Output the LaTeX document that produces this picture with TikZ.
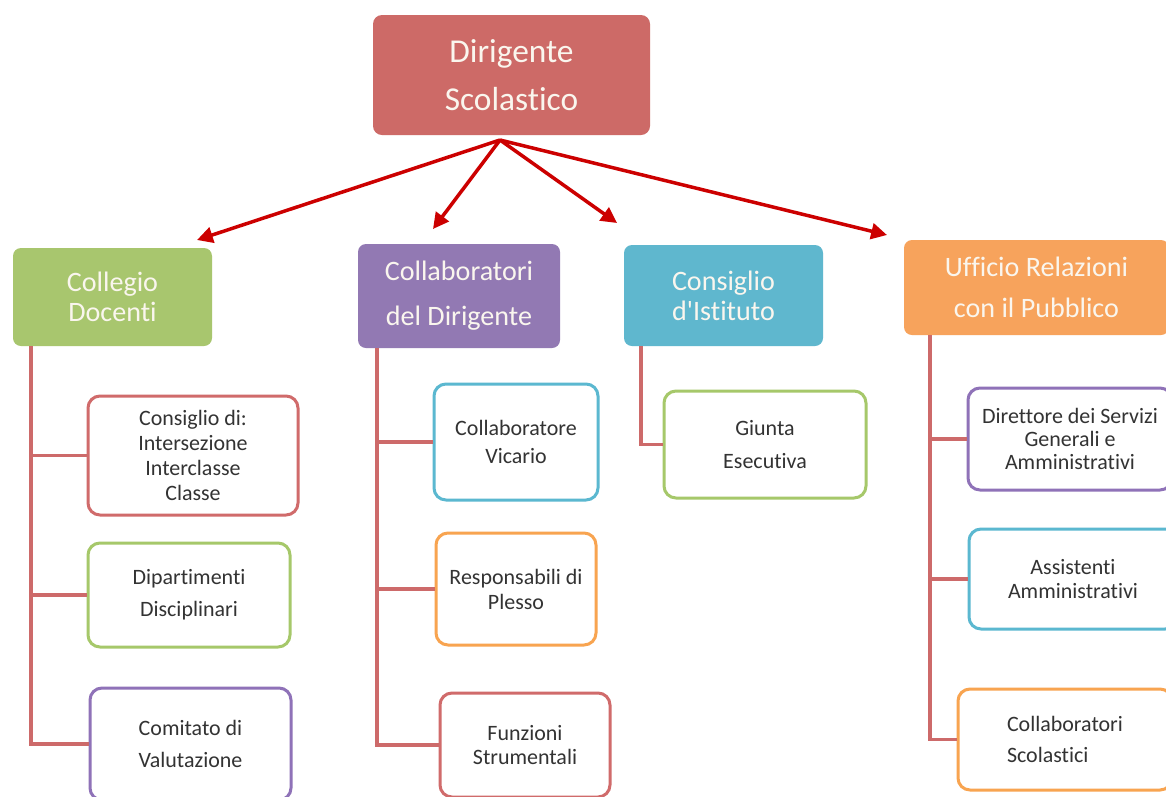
\documentclass[tikz,border=0pt]{standalone}
\usepackage{fontspec}
\setmainfont{Carlito}[Ligatures={NoCommon}]
\usetikzlibrary{arrows.meta}
\newlength\pxu
\setlength\pxu{0.02cm}
\definecolor{topred}{HTML}{CD6A67}
\definecolor{lgreen}{HTML}{A8C66E}
\definecolor{lpurple}{HTML}{9279B3}
\definecolor{lcyan}{HTML}{5FB7CE}
\definecolor{lorange}{HTML}{F7A35C}
\definecolor{bred}{HTML}{D06B6B}
\definecolor{bgreen}{HTML}{A6C86A}
\definecolor{bpurple}{HTML}{8F72B8}
\definecolor{bcyan}{HTML}{5BB8D0}
\definecolor{borange}{HTML}{F8A450}
\definecolor{connred}{HTML}{CD6A6A}
\definecolor{arrred}{HTML}{CC0000}
\definecolor{txt}{HTML}{333333}
\definecolor{wtxt}{HTML}{FAF6EE}
\begin{document}
\begin{tikzpicture}[x=0.02cm,y=-0.02cm,
  topbox/.style={fill=topred, rounded corners=9\pxu, inner sep=0pt, align=center, text=wtxt,
    font=\fontsize{19}{27}\selectfont},
  lvtwo/.style={rounded corners=8\pxu, inner sep=0pt, align=center, text=wtxt},
  lvthree/.style={draw, line width=3\pxu, rounded corners=12\pxu, fill=white, inner sep=0pt,
    align=center, text=txt},
  conn/.style={draw=connred, line width=3.5\pxu},
  arr/.style={draw=arrred, line width=3.5\pxu, -{Triangle[length=9pt,width=9pt]}}]
\clip (0,0) rectangle (1166,796);
\fill[white] (0,0) rectangle (1166,796);

% top
\node[topbox, minimum width=277\pxu, minimum height=120\pxu] (ds) at (511.5,75) {Dirigente\\Scolastico};

% level 2
\node[lvtwo, fill=lgreen, minimum width=199\pxu, minimum height=98\pxu,
  font=\fontsize{16}{17}\selectfont] (cd) at (112.5,297) {Collegio\\Docenti};
\node[lvtwo, fill=lpurple, minimum width=202\pxu, minimum height=104\pxu,
  font=\fontsize{16}{25.5}\selectfont] (cdir) at (459,296) {Collaboratori\\del Dirigente};
\node[lvtwo, fill=lcyan, minimum width=199\pxu, minimum height=101\pxu,
  font=\fontsize{16}{17}\selectfont] (ci) at (723.5,295.5) {Consiglio\\d\textquotesingle Istituto};
\node[lvtwo, fill=lorange, minimum width=265\pxu, minimum height=95\pxu,
  font=\fontsize{16}{23}\selectfont] (urp) at (1036.5,287.5) {Ufficio Relazioni\\con il Pubblico};

% arrows
\coordinate (hub) at (500,140);
\coordinate (e1) at (197,240);
\coordinate (e2) at (433,229);
\coordinate (e3) at (617,223);
\coordinate (e4) at (887,235);
\draw[arr] (hub) -- (e1);
\draw[arr] (hub) -- (e2);
\draw[arr] (hub) -- (e3);
\draw[arr] (hub) -- (e4);

% level 3 column 1
\node[lvthree, draw=bred, minimum width=210\pxu, minimum height=119\pxu,
  font=\fontsize{12.5}{14.2}\selectfont] (c1) at (193,455.5) {Consiglio di:\\Intersezione\\Interclasse\\Classe};
\node[lvthree, draw=bgreen, minimum width=202\pxu, minimum height=104\pxu,
  font=\fontsize{12.5}{18}\selectfont] (c2) at (189,595) {Dipartimenti\\Disciplinari};
\node[lvthree, draw=bpurple, minimum width=201\pxu, minimum height=112\pxu,
  font=\fontsize{12.5}{18}\selectfont] (c3) at (190.5,744) {Comitato di\\Valutazione};

% column 2
\node[lvthree, draw=bcyan, minimum width=164\pxu, minimum height=116\pxu,
  font=\fontsize{12.5}{16}\selectfont] (d1) at (516,442) {Collaboratore\\Vicario};
\node[lvthree, draw=borange, minimum width=160\pxu, minimum height=112\pxu,
  font=\fontsize{12.5}{14.2}\selectfont] (d2) at (516,589) {Responsabili di\\Plesso};
\node[lvthree, draw=bred, minimum width=170\pxu, minimum height=104\pxu,
  font=\fontsize{12.5}{13.6}\selectfont] (d3) at (525,745) {Funzioni\\Strumentali};

% column 3
\node[lvthree, draw=bgreen, minimum width=202\pxu, minimum height=107\pxu,
  font=\fontsize{12.5}{19.3}\selectfont] (g1) at (765,444.5) {Giunta\\Esecutiva};

% column 4
\node[lvthree, draw=bpurple, minimum width=204\pxu, minimum height=102\pxu,
  font=\fontsize{12.5}{13}\selectfont] (u1) at (1070,439) {Direttore dei Servizi\\Generali e\\Amministrativi};
\node[lvthree, draw=bcyan, minimum width=208\pxu, minimum height=100\pxu,
  font=\fontsize{12.5}{13.6}\selectfont] (u2) at (1073,579) {Assistenti\\Amministrativi};
\node[lvthree, draw=borange, minimum height=101\pxu, inner xsep=49\pxu, text width=116\pxu,
  align=left, font=\fontsize{12.5}{18}\selectfont] (u3) at (1065,739.5) {Collaboratori\\Scolastici};

% connectors
\coordinate (v1) at (31,0);
\coordinate (v2) at (377,0);
\coordinate (v3) at (641,0);
\coordinate (v4) at (930,0);
\draw[conn] (cd.south -| v1) |- (c3.west);
\draw[conn] (c1.west) -- (c1.west -| v1);
\draw[conn] (c2.west) -- (c2.west -| v1);
\draw[conn] (cdir.south -| v2) |- (d3.west);
\draw[conn] (d1.west) -- (d1.west -| v2);
\draw[conn] (d2.west) -- (d2.west -| v2);
\draw[conn] (ci.south -| v3) |- (g1.west);
\draw[conn] (urp.south -| v4) |- (u3.west);
\draw[conn] (u1.west) -- (u1.west -| v4);
\draw[conn] (u2.west) -- (u2.west -| v4);
\end{tikzpicture}
\end{document}
